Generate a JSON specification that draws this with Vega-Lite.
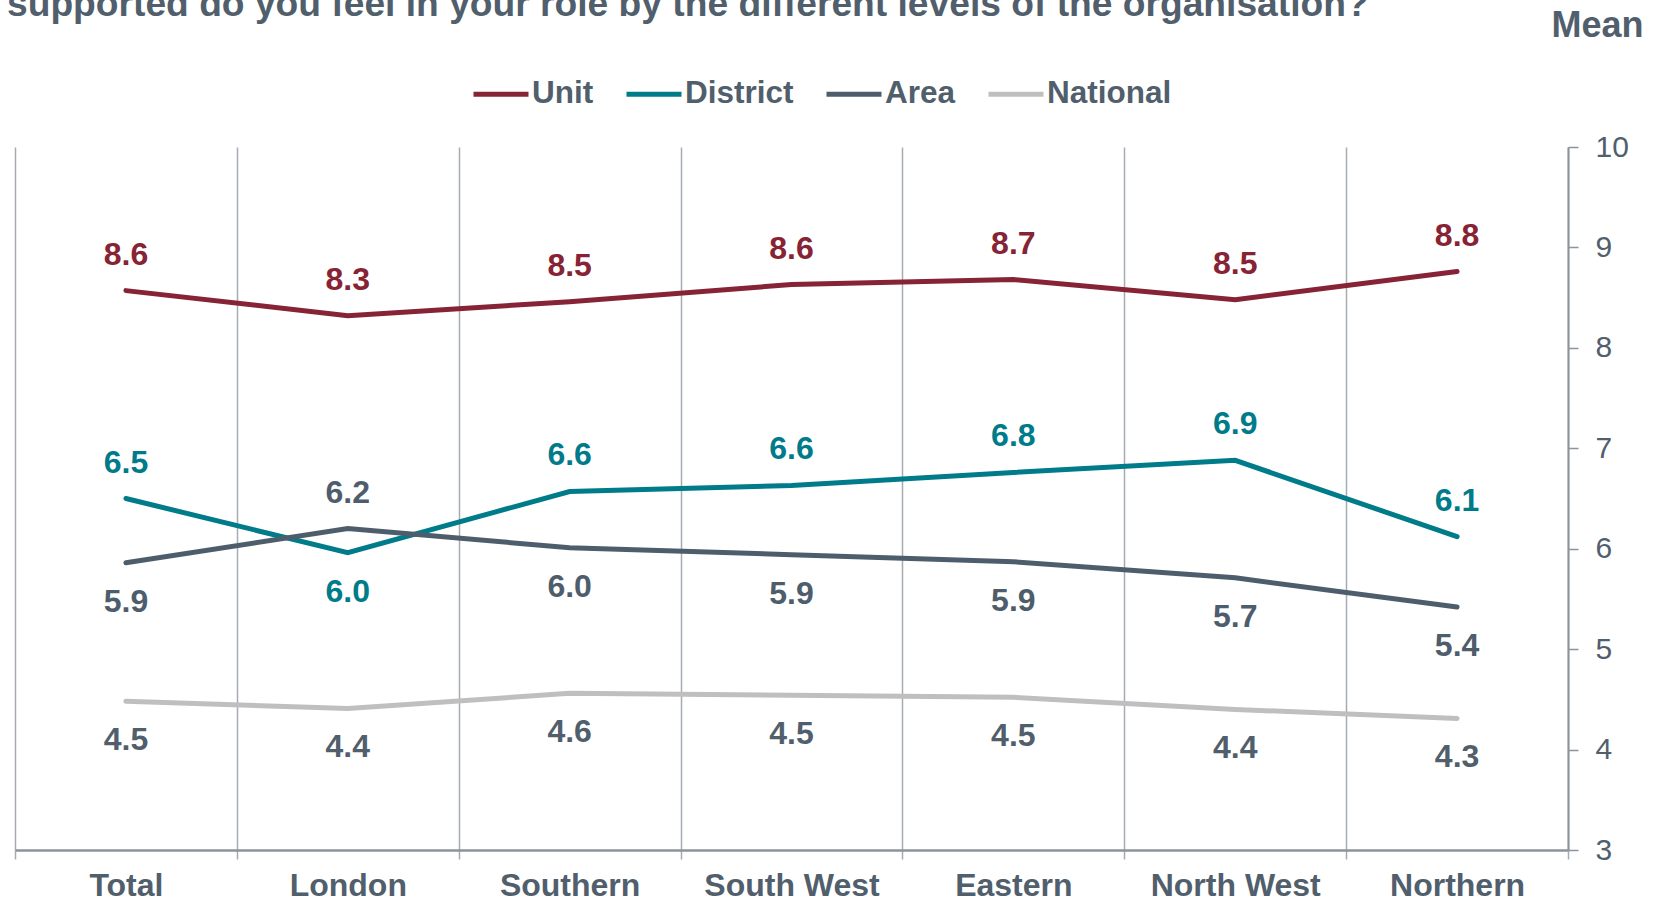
{
  "$schema": "https://vega.github.io/schema/vega-lite/v6.json",
  "width": 1553,
  "height": 703,
  "autosize": {"type": "none"},
  "padding": {"left": 15, "top": 147, "right": 87, "bottom": 52},
  "background": "white",
  "config": {"view": {"stroke": null}, "font": "Liberation Sans"},
  "title": {
    "text": "supported do you feel in your role by the different levels of the organisation?",
    "anchor": "start",
    "frame": "group",
    "font": "Liberation Sans",
    "fontSize": 37.2,
    "fontWeight": "bold",
    "color": "#515f6d",
    "dx": -8,
    "dy": 21
  },
  "data": {
    "values": [
      {"region": "Total", "series": "Unit", "value": 8.57},
      {"region": "London", "series": "Unit", "value": 8.32},
      {"region": "Southern", "series": "Unit", "value": 8.46},
      {"region": "South West", "series": "Unit", "value": 8.63},
      {"region": "Eastern", "series": "Unit", "value": 8.68},
      {"region": "North West", "series": "Unit", "value": 8.48},
      {"region": "Northern", "series": "Unit", "value": 8.76},
      {"region": "Total", "series": "District", "value": 6.5},
      {"region": "London", "series": "District", "value": 5.96},
      {"region": "Southern", "series": "District", "value": 6.57},
      {"region": "South West", "series": "District", "value": 6.63},
      {"region": "Eastern", "series": "District", "value": 6.76},
      {"region": "North West", "series": "District", "value": 6.88},
      {"region": "Northern", "series": "District", "value": 6.12},
      {"region": "Total", "series": "Area", "value": 5.86},
      {"region": "London", "series": "Area", "value": 6.2},
      {"region": "Southern", "series": "Area", "value": 6.01},
      {"region": "South West", "series": "Area", "value": 5.94},
      {"region": "Eastern", "series": "Area", "value": 5.87},
      {"region": "North West", "series": "Area", "value": 5.71},
      {"region": "Northern", "series": "Area", "value": 5.42},
      {"region": "Total", "series": "National", "value": 4.48},
      {"region": "London", "series": "National", "value": 4.41},
      {"region": "Southern", "series": "National", "value": 4.56},
      {"region": "South West", "series": "National", "value": 4.54},
      {"region": "Eastern", "series": "National", "value": 4.52},
      {"region": "North West", "series": "National", "value": 4.4},
      {"region": "Northern", "series": "National", "value": 4.31}
    ]
  },
  "encoding": {
    "x": {
      "field": "region",
      "type": "nominal",
      "sort": ["Total", "London", "Southern", "South West", "Eastern", "North West", "Northern"],
      "scale": {"type": "band", "paddingInner": 0, "paddingOuter": 0},
      "axis": {
        "title": null,
        "orient": "bottom",
        "labelAngle": 0,
        "tickBand": "extent",
        "grid": true,
        "gridColor": "#a5abb2",
        "gridWidth": 1.5,
        "domainColor": "#8c939b",
        "domainWidth": 2.5,
        "ticks": true,
        "tickColor": "#a5abb2",
        "tickWidth": 1.5,
        "tickSize": 9,
        "labelFont": "Liberation Sans",
        "labelFontSize": 32,
        "labelFontWeight": "bold",
        "labelColor": "#515f6d",
        "labelPadding": 11
      }
    },
    "y": {
      "field": "value",
      "type": "quantitative",
      "scale": {"domain": [3, 10], "nice": false, "zero": false},
      "axis": {
        "orient": "right",
        "values": [3, 4, 5, 6, 7, 8, 9, 10],
        "grid": false,
        "domainColor": "#8c939b",
        "domainWidth": 2,
        "tickColor": "#8c939b",
        "tickWidth": 1.5,
        "tickSize": 10,
        "labelFont": "Liberation Sans",
        "labelFontSize": 30,
        "labelColor": "#515f6d",
        "labelPadding": 17,
        "title": "Mean",
        "titleFont": "Liberation Sans",
        "titleFontSize": 36,
        "titleFontWeight": "bold",
        "titleColor": "#515f6d",
        "titleAngle": 0,
        "titleAlign": "right",
        "titleBaseline": "alphabetic",
        "titleX": 75,
        "titleY": -111
      }
    }
  },
  "layer": [
    {
      "mark": {"type": "line", "strokeWidth": 5, "strokeCap": "round"},
      "encoding": {
        "color": {
          "field": "series",
          "type": "nominal",
          "sort": ["Unit", "District", "Area", "National"],
          "scale": {"domain": ["Unit", "District", "Area", "National"], "range": ["#862334", "#007b8a", "#4e5d6c", "#bfbfbf"]},
          "legend": {
            "orient": "none",
            "direction": "horizontal",
            "legendX": 456,
            "legendY": -83,
            "title": null,
            "symbolType": "stroke",
            "symbolSize": 3025,
            "symbolStrokeWidth": 5,
            "labelFont": "Liberation Sans",
            "labelFontSize": 31.5,
            "labelFontWeight": "bold",
            "labelColor": "#515f6d",
            "labelOffset": 1,
            "columnPadding": 22
          }
        }
      }
    },
    {
      "transform": [{"filter": "datum.series==='Unit' || (datum.series==='District' && datum.region!=='London') || (datum.series==='Area' && datum.region==='London')"}],
      "mark": {"type": "text", "font": "Liberation Sans", "fontSize": 32, "fontWeight": "bold", "baseline": "middle", "dy": -36},
      "encoding": {
        "text": {"field": "value", "type": "quantitative", "format": ".1f"},
        "color": {"condition": {"test": "datum.series==='National'", "value": "#515f6d"}, "field": "series", "type": "nominal", "legend": null}
      }
    },
    {
      "transform": [{"filter": "!(datum.series==='Unit' || (datum.series==='District' && datum.region!=='London') || (datum.series==='Area' && datum.region==='London'))"}],
      "mark": {"type": "text", "font": "Liberation Sans", "fontSize": 32, "fontWeight": "bold", "baseline": "middle", "dy": 39},
      "encoding": {
        "text": {"field": "value", "type": "quantitative", "format": ".1f"},
        "color": {"condition": {"test": "datum.series==='National'", "value": "#515f6d"}, "field": "series", "type": "nominal", "legend": null}
      }
    }
  ]
}
